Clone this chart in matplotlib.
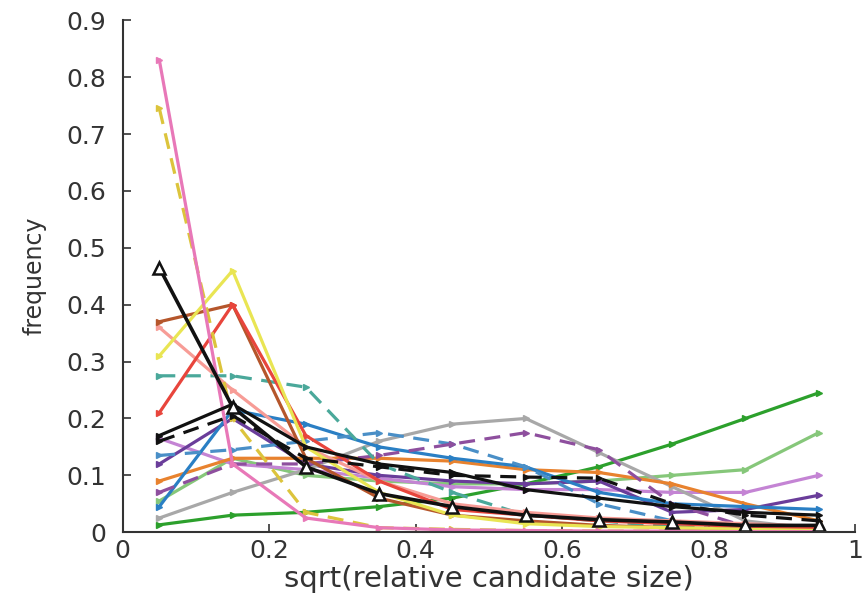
import numpy as np
import matplotlib
matplotlib.use("Agg")
import matplotlib.pyplot as plt

plt.rcParams['font.family'] = ['DejaVu Sans']

# bin centres of sqrt(relative candidate size)
bins = [0.05, 0.15, 0.25, 0.35, 0.45, 0.55, 0.65, 0.75, 0.85, 0.95]

dark_green = [0.013, 0.030, 0.035, 0.045, 0.060, 0.085, 0.115, 0.155, 0.200, 0.245]
light_green = [0.055, 0.130, 0.100, 0.090, 0.085, 0.085, 0.090, 0.100, 0.110, 0.175]
orchid = [0.165, 0.120, 0.110, 0.095, 0.080, 0.075, 0.075, 0.070, 0.070, 0.100]
dark_purple = [0.120, 0.200, 0.120, 0.100, 0.090, 0.085, 0.090, 0.035, 0.040, 0.065]
gray = [0.025, 0.070, 0.110, 0.160, 0.190, 0.200, 0.140, 0.080, 0.020, 0.005]
orange = [0.090, 0.130, 0.130, 0.130, 0.125, 0.110, 0.105, 0.085, 0.050, 0.020]
blue = [0.045, 0.215, 0.190, 0.150, 0.130, 0.115, 0.070, 0.050, 0.045, 0.040]
blue_dash = [0.135, 0.145, 0.160, 0.175, 0.155, 0.115, 0.050, 0.020, 0.010, 0.005]
purple_dash = [0.070, 0.120, 0.120, 0.135, 0.155, 0.175, 0.145, 0.050, 0.010, 0.003]
teal_dash = [0.275, 0.275, 0.255, 0.120, 0.070, 0.030, 0.020, 0.010, 0.005, 0.003]
salmon = [0.360, 0.250, 0.150, 0.090, 0.050, 0.035, 0.025, 0.020, 0.015, 0.010]
brown = [0.370, 0.400, 0.130, 0.060, 0.030, 0.020, 0.012, 0.008, 0.005, 0.003]
red = [0.210, 0.400, 0.170, 0.090, 0.040, 0.030, 0.020, 0.015, 0.010, 0.008]
yellow = [0.310, 0.460, 0.150, 0.070, 0.030, 0.015, 0.010, 0.008, 0.005, 0.003]
yellow_dash = [0.745, 0.200, 0.035, 0.008, 0.005, 0.003, 0.002, 0.002, 0.001, 0.001]
pink = [0.830, 0.120, 0.025, 0.008, 0.004, 0.003, 0.002, 0.002, 0.001, 0.001]
black_dash = [0.160, 0.205, 0.130, 0.115, 0.100, 0.097, 0.095, 0.050, 0.030, 0.020]
black_dot = [0.170, 0.225, 0.150, 0.120, 0.105, 0.075, 0.060, 0.045, 0.035, 0.030]
black_tri = [0.465, 0.220, 0.115, 0.068, 0.045, 0.030, 0.022, 0.018, 0.012, 0.012]

# (values, colour, linestyle)
series = [
    (dark_green, '#2ca02c', '-'),
    (light_green, '#86c77a', '-'),
    (orchid, '#c484d4', '-'),
    (dark_purple, '#6a3d9a', '-'),
    (gray, '#a8a8a8', '-'),
    (orange, '#e8822e', '-'),
    (blue, '#2a7fc4', '-'),
    (blue_dash, '#4a8fc7', '--'),
    (purple_dash, '#8e4f9e', '--'),
    (teal_dash, '#4aa89a', '--'),
    (salmon, '#f79c96', '-'),
    (brown, '#b5562b', '-'),
    (red, '#e8453c', '-'),
    (yellow, '#e9e553', '-'),
    (yellow_dash, '#dcc43c', '--'),
    (pink, '#e878b8', '-'),
    (black_dash, '#111111', '--'),
    (black_dot, '#111111', '-'),
]

fig = plt.figure(figsize=(8.64, 5.96), dpi=100)
ax = fig.add_axes([0.142, 0.107, 0.848, 0.859])

for vals, col, ls in series:
    ax.plot(bins, vals, color=col, linestyle=ls, linewidth=2.3,
            marker='>', markersize=4, dashes=(5, 3) if ls == '--' else (None, None))

ax.plot(bins, black_tri, color='#111111', linewidth=2.6, marker='^',
        markersize=9, markerfacecolor='white', markeredgewidth=1.8)

ax.set_xlim(0, 1)
ax.set_ylim(0, 0.9)
ax.set_xticks([0, 0.2, 0.4, 0.6, 0.8, 1])
ax.set_xticklabels(['0', '0.2', '0.4', '0.6', '0.8', '1'])
ax.set_yticks(np.arange(0, 0.91, 0.1))
ax.set_yticklabels(['0'] + [f'{v:.1f}' for v in np.arange(0.1, 0.91, 0.1)])

for s in ['top', 'right']:
    ax.spines[s].set_visible(False)
for s in ['left', 'bottom']:
    ax.spines[s].set_linewidth(1.5)
    ax.spines[s].set_color('#333333')
ax.tick_params(direction='in', length=6, width=1.2, labelsize=18, colors='#333333')
ax.tick_params(axis='y', pad=12)
ax.tick_params(axis='x', pad=5)

ax.set_xlabel('sqrt(relative candidate size)', fontsize=21, color='#333333', labelpad=1)
ax.set_ylabel('frequency', fontsize=17, color='#333333', labelpad=14)

fig.savefig('out.png', dpi=100)
